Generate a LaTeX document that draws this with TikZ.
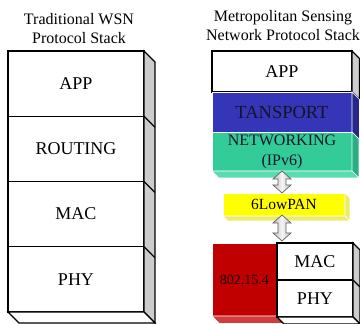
\documentclass[tikz,border=0pt]{standalone}
\usepackage{fontspec}
\setmainfont{Liberation Serif}
\usetikzlibrary{calc}
\definecolor{tpblue}{RGB}{53,53,184}
\definecolor{tpblueside}{RGB}{40,40,140}
\definecolor{nwgreen}{RGB}{51,204,153}
\definecolor{nwgreenside}{RGB}{40,175,130}
\definecolor{nwgreenbot}{RGB}{90,220,175}
\definecolor{lpyellow}{RGB}{255,255,0}
\definecolor{lpyellowside}{RGB}{235,235,110}
\definecolor{phred}{RGB}{192,0,0}
\definecolor{phredbot}{RGB}{210,60,60}
\definecolor{sidegrey}{RGB}{204,204,204}
\definecolor{darktext}{RGB}{20,20,40}

% double-headed block arrow running vertically from #1 down to #2
\newcommand\dblarrow[2]{%
  \path[arrowbody] let \p1=(#1), \p2=(#2) in
    (\x1,\y1) -- (\x1+9pt,\y1-8pt) -- (\x1+4pt,\y1-8pt) --
    (\x1+4pt,\y2+8pt) -- (\x1+9pt,\y2+8pt) -- (\x1,\y2) --
    (\x1-9pt,\y2+8pt) -- (\x1-4pt,\y2+8pt) -- (\x1-4pt,\y1-8pt) --
    (\x1-9pt,\y1-8pt) -- cycle;}

\begin{document}
\begin{tikzpicture}[x=1pt,y=-1pt,line join=miter,
  face/.style={draw=black,line width=1.1pt,fill=white,rectangle,inner sep=0pt,outer sep=0pt},
  sideface/.style={draw=black,line width=1.1pt,fill=sidegrey},
  botface/.style={draw=black,line width=1.1pt,fill=white},
  cface/.style={draw=white,line width=0.6pt,rectangle,inner sep=0pt,outer sep=0pt},
  cedge/.style={draw=white,line width=0.6pt},
  big/.style={font=\fontsize{18}{20}\selectfont},
  ttl/.style={font=\fontsize{16}{19}\selectfont,align=center,inner sep=0pt},
  arrowbody/.style={draw=gray!75!black,line width=0.7pt,left color=gray!50,
    right color=gray!50,middle color=gray!8}]
\useasboundingbox (0,0) rectangle (360,324);

% ---------- titles ----------
\node[ttl] (ltitle) at (79,29) {Traditional WSN\\Protocol Stack};
\node[ttl] (rtitle) at (283,26) {Metropolitan Sensing\\Network Protocol Stack};

% ---------- traditional stack ----------
\node[face,big,minimum width=136pt,minimum height=65.25pt] (lapp)  at (76,83.625)  {APP};
\node[face,big,minimum width=136pt,minimum height=65.25pt] (lrout) at (76,148.875) {ROUTING};
\node[face,big,minimum width=136pt,minimum height=65.25pt] (lmac)  at (76,214.125) {MAC};
\node[face,big,minimum width=136pt,minimum height=65.25pt] (lphy)  at (76,279.375) {PHY};
\draw[sideface] (lapp.north east) -- ++(11,11) -- ($(lphy.south east)+(11,11)$)
  -- (lphy.south east) -- cycle;
\foreach \n in {lapp,lrout,lmac} \draw[line width=1.1pt] (\n.south east) -- ++(11,11);
\draw[botface] (lphy.south west) -- (lphy.south east) -- ++(11,11)
  -- ($(lphy.south west)+(11,11)$) -- cycle;

% ---------- metropolitan sensing stack ----------
% APP
\node[face,big,minimum width=140pt,minimum height=41pt] (rapp) at (282,71.5) {APP};
\draw[sideface] (rapp.north east) -- ++(7.5,7.5) -- ($(rapp.south east)+(7.5,7.5)$)
  -- (rapp.south east) -- cycle;
% transport
\node[cface,fill=tpblue,text=darktext,font=\fontsize{18.5}{20}\selectfont,
  minimum width=140pt,minimum height=40pt] (transp) at (282,112) {TANSPORT};
\draw[cedge,fill=tpblueside] (transp.north east) -- ++(7.5,7.5)
  -- ($(transp.south east)+(7.5,7.5)$) -- (transp.south east) -- cycle;
% networking
\node[cface,fill=nwgreen,text=darktext,font=\fontsize{16}{20}\selectfont,align=center,
  minimum width=140pt,minimum height=39pt] (netw) at (282,151.5) {NETWORKING\\(IPv6)};
\draw[cedge,fill=nwgreenside] (netw.north east) -- ++(7,7)
  -- ($(netw.south east)+(7,7)$) -- (netw.south east) -- cycle;
\draw[cedge,fill=nwgreenbot] (netw.south west) -- (netw.south east) -- ++(7,7)
  -- ($(netw.south west)+(7,7)$) -- cycle;
% 6LowPAN
\node[cface,fill=lpyellow,font=\fontsize{15.5}{18}\selectfont,
  minimum width=122pt,minimum height=23pt] (lowpan) at (284,204.5) {6LowPAN};
\draw[cedge,fill=lpyellowside] (lowpan.north east) -- ++(5,5)
  -- ($(lowpan.south east)+(5,5)$) -- (lowpan.south east) -- cycle;
\draw[cedge,fill=lpyellowside] (lowpan.south west) -- (lowpan.south east) -- ++(5,5)
  -- ($(lowpan.south west)+(5,5)$) -- cycle;
% 802.15.4
\node[cface,fill=phred,text=black!90!red,font=\fontsize{14}{16}\selectfont,
  minimum width=65pt,minimum height=73pt] (ieee) at (244.5,279.5) {802.15.4};
\draw[cedge,fill=phredbot] (ieee.south west) -- (ieee.south east) -- ++(7.5,7.5)
  -- ($(ieee.south west)+(7.5,7.5)$) -- cycle;
% MAC / PHY
\node[face,big,minimum width=76pt,minimum height=37pt] (rmac) at (315,261.5) {MAC};
\node[face,big,minimum width=76pt,minimum height=37pt] (rphy) at (315,298.5) {PHY};
\draw[sideface] (rmac.north east) -- ++(7,7) -- ($(rphy.south east)+(7,7)$)
  -- (rphy.south east) -- cycle;
\draw[line width=1.1pt] (rmac.south east) -- ++(7,7);
\draw[botface] (rphy.south west) -- (rphy.south east) -- ++(7,7)
  -- ($(rphy.south west)+(7,7)$) -- cycle;

% ---------- connecting arrows ----------
\dblarrow{netw.south}{lowpan.north}
\dblarrow{$(lowpan.south)+(-2,-1)$}{$(rmac.north)+(0,-2)$}
\end{tikzpicture}
\end{document}
